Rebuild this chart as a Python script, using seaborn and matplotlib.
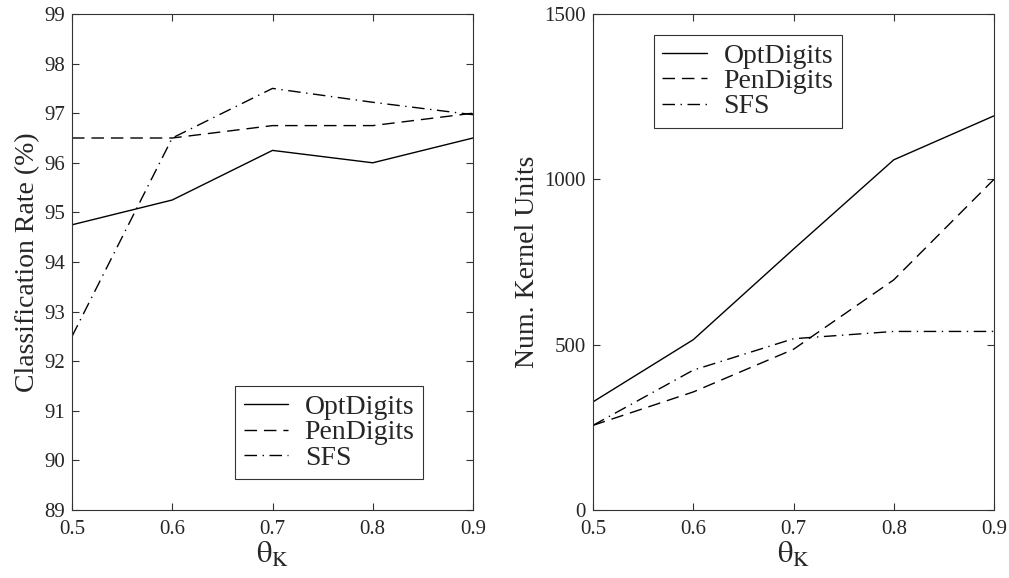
import matplotlib
matplotlib.use("Agg")
import matplotlib.pyplot as plt
import seaborn as sns
import pandas as pd

theta = [0.5, 0.6, 0.7, 0.8, 0.9]
datasets = ["OptDigits", "PenDigits", "SFS"]

rate_opt = [94.75, 95.25, 96.25, 96.0, 96.5]
rate_pen = [96.5, 96.5, 96.75, 96.75, 97.0]
rate_sfs = [92.5, 96.5, 97.5, 97.22, 96.97]

units_opt = [327, 515, 789, 1059, 1192]
units_pen = [256, 357, 486, 696, 1000]
units_sfs = [256, 423, 518, 540, 540]

sns.set_theme(style="ticks")
plt.rcParams["font.family"] = ["Liberation Serif", "DejaVu Serif"]
plt.rcParams["mathtext.fontset"] = "stix"

def long_df(vals_list, col):
    rows = []
    for name, vals in zip(datasets, vals_list):
        for t, v in zip(theta, vals):
            rows.append({"theta": t, col: v, "dataset": name})
    return pd.DataFrame(rows)

df_rate = long_df([rate_opt, rate_pen, rate_sfs], "rate")
df_units = long_df([units_opt, units_pen, units_sfs], "units")

dashes = {"OptDigits": "", "PenDigits": (9, 5), "SFS": (9, 4, 1, 4)}

fig = plt.figure(figsize=(10.09, 5.78), dpi=100)
ax1 = fig.add_axes([72 / 1009, 68 / 578, 401 / 1009, 496 / 578])
ax2 = fig.add_axes([593 / 1009, 68 / 578, 401 / 1009, 496 / 578])

sns.lineplot(data=df_rate, x="theta", y="rate", style="dataset", dashes=dashes,
             color="black", linewidth=1.0, ax=ax1)
sns.lineplot(data=df_units, x="theta", y="units", style="dataset", dashes=dashes,
             color="black", linewidth=1.0, ax=ax2)

for ax in (ax1, ax2):
    ax.set_xlim(0.5, 0.9)
    ax.set_xticks(theta)
    ax.set_xticklabels(["0.5", "0.6", "0.7", "0.8", "0.9"])
    ax.tick_params(direction="in", top=True, right=True, labelsize=15, length=5,
                   width=0.8, color="#333333", pad=5)
    ax.tick_params(axis="x", pad=7)
    for s in ax.spines.values():
        s.set_linewidth(0.8)
        s.set_color("#333333")
    ax.set_xlabel(r"$\mathrm{\theta}_{\mathrm{K}}$", fontsize=22, labelpad=1)

ax1.set_ylim(89, 99)
ax1.set_yticks(range(89, 100))
ax1.set_ylabel("Classification Rate (%)", fontsize=20, labelpad=3)
ax2.set_ylim(0, 1500)
ax2.set_yticks([0, 500, 1000, 1500])
ax2.set_ylabel("Num. Kernel Units", fontsize=20, labelpad=3)

leg_kw = dict(fontsize=20, frameon=True, fancybox=False, edgecolor="black",
              handlelength=1.6, handletextpad=0.6, borderpad=0.3,
              labelspacing=0.0, borderaxespad=0.0)
leg1 = ax1.legend(loc="lower right", bbox_to_anchor=(0.875, 0.0625), **leg_kw)
leg1.get_frame().set_linewidth(0.8)
leg2 = ax2.legend(loc="upper left", bbox_to_anchor=(0.152, 0.958), **leg_kw)
leg2.get_frame().set_linewidth(0.8)

fig.savefig("out.png", dpi=100)
